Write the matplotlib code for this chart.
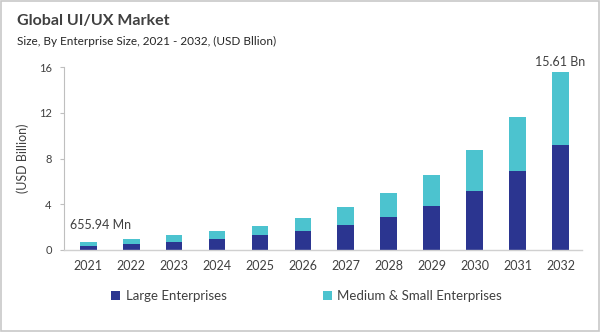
import matplotlib
matplotlib.use("Agg")
import matplotlib.pyplot as plt
import numpy as np

# Market size values (USD Billion)
years = ["2021", "2022", "2023", "2024", "2025", "2026", "2027", "2028", "2029", "2030", "2031", "2032"]
large = [0.37, 0.53, 0.73, 0.96, 1.28, 1.69, 2.19, 2.92, 3.85, 5.17, 6.89, 9.14]
medium_small = [0.29, 0.40, 0.55, 0.67, 0.85, 1.14, 1.55, 2.04, 2.72, 3.56, 4.76, 6.47]
first_label = "655.94 Mn"
last_label = "15.61 Bn"
y_ticks = [0, 4, 8, 12, 16]

plt.rcParams["font.family"] = ["Lato", "DejaVu Sans"]

navy = "#2b3590"
cyan = "#4cc3cf"
text_col = "#404040"

fig = plt.figure(figsize=(6, 3.32), dpi=100)
fig.patch.set_facecolor("white")

# Thin frame round the whole picture
frame = plt.Rectangle((0.001, 0.002), 0.997, 0.995, transform=fig.transFigure,
                      fill=False, edgecolor="#c8c8c8", linewidth=1.2)
fig.add_artist(frame)

ax = fig.add_axes([0.107, 0.247, 0.863, 0.551])
x = np.arange(len(years))
ax.bar(x, large, width=0.39, color=navy, label="Large Enterprises")
ax.bar(x, medium_small, width=0.39, bottom=large, color=cyan, label="Medium & Small Enterprises")

ax.set_xlim(-0.56, 11.5)
ax.set_ylim(0, 16)
ax.set_yticks(y_ticks)
ax.set_xticks(x)
ax.set_xticklabels(years)
ax.tick_params(axis="x", length=0, pad=7, labelsize=9, colors=text_col)
ax.tick_params(axis="y", length=3, width=0.8, pad=6, labelsize=8, colors=text_col)
ax.tick_params(axis="y", color="#bfbfbf")

for side in ["top", "right"]:
    ax.spines[side].set_visible(False)
ax.spines["left"].set_color("#bfbfbf")
ax.spines["bottom"].set_color("#d0d0d0")
ax.spines["left"].set_linewidth(0.8)
ax.spines["bottom"].set_linewidth(1.0)

ax.set_ylabel("(USD Billion)", fontsize=9, color=text_col, labelpad=7)

# Value callouts on first and last bars
ax.text(x[0] - 0.42, large[0] + medium_small[0] + 1.0, first_label, ha="left", va="bottom",
        fontsize=9, color=text_col)
ax.text(x[-1], large[-1] + medium_small[-1] + 0.35, last_label, ha="center", va="bottom",
        fontsize=9, color=text_col)

fig.text(0.028, 0.925, "Global UI/UX Market", fontsize=11.5, fontweight="bold", color=text_col)
fig.text(0.028, 0.863, "Size, By Enterprise Size, 2021 - 2032, (USD Bllion)", fontsize=8.5, color="#262626")

leg = fig.legend(loc="center", bbox_to_anchor=(0.511, 0.108), ncol=2, frameon=False,
                 fontsize=9.5, handlelength=0.7, handleheight=0.7, handletextpad=0.4,
                 columnspacing=7.3)
for t in leg.get_texts():
    t.set_color(text_col)

fig.savefig("out.png", dpi=100)
